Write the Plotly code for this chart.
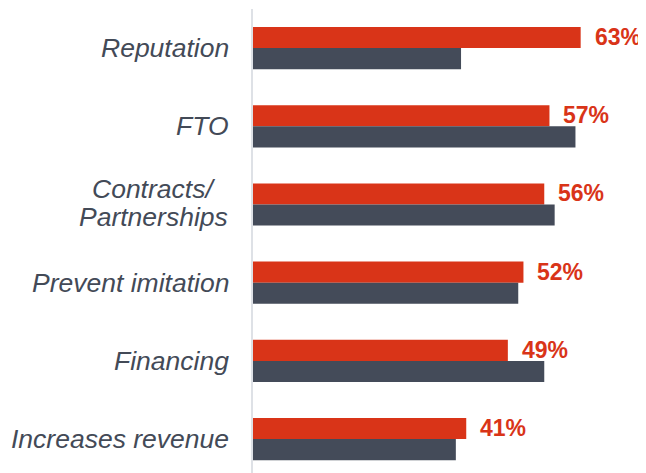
import plotly.graph_objects as go

categories = ["Reputation", "FTO", "Contracts/<br>Partnerships", "Prevent imitation", "Financing", "Increases revenue"]
red_values = [63, 57, 56, 52, 49, 41]
gray_values = [40, 62, 58, 51, 56, 39]
red_labels = ["63%", "57%", "56%", "52%", "49%", "41%"]

RED = "#D93418"
GRAY = "#444B59"
TEXT = "#434A57"
FONT = "Liberation Sans, Arial, sans-serif"

fig = go.Figure()
fig.add_trace(go.Bar(y=categories, x=red_values, orientation="h",
                     marker=dict(color=RED, line=dict(width=0)), hoverinfo="skip"))
fig.add_trace(go.Bar(y=categories, x=gray_values, orientation="h",
                     marker=dict(color=GRAY, line=dict(width=0)), hoverinfo="skip"))

annotations = []
for c, v, t in zip(categories, red_values, red_labels):
    annotations.append(dict(x=v, y=c, xref="x", yref="y", text="<b>" + t + "</b>",
                            showarrow=False, xanchor="left", yanchor="middle",
                            xshift=12, yshift=11,
                            font=dict(family=FONT, size=23, color=RED)))
for c in categories:
    lines = c.split("<br>")
    if len(lines) == 1:
        annotations.append(dict(x=0, y=c, xref="paper", yref="y", text="<i>" + c + "</i>",
                                showarrow=False, xanchor="right", yanchor="middle",
                                xshift=-22,
                                font=dict(family=FONT, size=26.5, color=TEXT)))
    else:
        n = len(lines)
        for i, ln in enumerate(lines):
            annotations.append(dict(x=0, y=c, xref="paper", yref="y", text="<i>" + ln + "</i>",
                                    showarrow=False, xanchor="center", yanchor="middle",
                                    xshift=-100, yshift=(n - 1) / 2 * 28 - i * 28 + 1,
                                    font=dict(family=FONT, size=26.5, color=TEXT)))

fig.update_layout(
    width=646, height=473,
    margin=dict(l=245, r=0, t=1, b=0, pad=0),
    paper_bgcolor="white", plot_bgcolor="white",
    barmode="group", bargap=0.46, bargroupgap=0,
    showlegend=False,
    annotations=annotations,
    xaxis=dict(range=[0, 77.1], visible=False, fixedrange=True),
    yaxis=dict(type="category", range=[5.536, -0.5], showticklabels=False, ticks="",
               showgrid=False, zeroline=False, showline=True,
               linecolor="#DEE1E6", linewidth=2, fixedrange=True),
)

fig.write_html("out.html")
